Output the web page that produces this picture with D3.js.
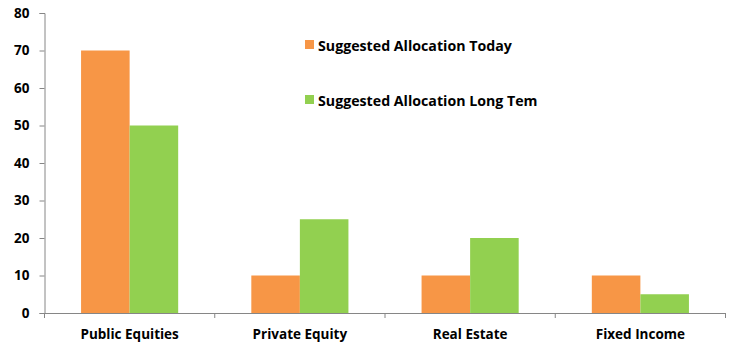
<!DOCTYPE html>
<html><head><meta charset="utf-8">
<script src="https://cdn.jsdelivr.net/npm/d3@7"></script>
<style>body{margin:0;background:#fff}svg text{font-family:"Open Sans",sans-serif;font-weight:bold;fill:#000}</style>
</head><body><svg id="c" width="740" height="355"></svg>
<script>
const categories = ["Public Equities","Private Equity","Real Estate","Fixed Income"];
const seriesNames = ["Suggested Allocation Today","Suggested Allocation Long Tem"];
const today = [70,10,10,10];
const longTerm = [50,25,20,5];
const yTicks = [0,10,20,30,40,50,60,70,80];
const colors = ["#F79646","#92D050"];

const svg = d3.select("#c");
const m = {l:44.5};
const x = d3.scaleBand().domain(categories).range([m.l, 725.5]).paddingInner(0).paddingOuter(0);
const xs = d3.scaleBand().domain([0,1]).range([0, x.bandwidth()]).paddingInner(0).paddingOuter(0.753);
const y = d3.scaleLinear().domain([0,80]).range([313, 13]);

const gy = svg.append("g").attr("transform",`translate(${m.l},0)`)
  .call(d3.axisLeft(y).tickValues(yTicks).tickSize(5).tickPadding(10));
gy.select(".domain").attr("stroke","#868686");
gy.selectAll(".tick line").attr("stroke","#868686");
gy.selectAll(".tick text").attr("font-size",13.5).attr("font-family","Open Sans").attr("font-weight","bold");

const data = [today,longTerm];
categories.forEach((c,i)=>{
  data.forEach((s,j)=>{
    svg.append("rect").attr("x",x(c)+xs(j)).attr("width",xs.bandwidth())
      .attr("y",y(s[i])).attr("height",y(0)-y(s[i])).attr("fill",colors[j]);
  });
});

const gx = svg.append("g").attr("transform",`translate(0,${y(0)})`)
  .call(d3.axisBottom(x).tickSize(0).tickPadding(16));
gx.select(".domain").attr("stroke","#868686");
gx.selectAll(".tick text").attr("font-size",13.5).attr("font-family","Open Sans").attr("font-weight","bold");
const bounds = categories.map(c=>x(c)).concat([x.range()[1]]);
svg.selectAll(".bt").data(bounds).enter().append("line")
  .attr("x1",d=>d).attr("x2",d=>d).attr("y1",y(0)).attr("y2",y(0)+5).attr("stroke","#868686");

const leg = svg.append("g");
seriesNames.forEach((n,j)=>{
  const ly = 46 + j*55;
  leg.append("rect").attr("x",305).attr("y",ly-6).attr("width",9).attr("height",9).attr("fill",colors[j]);
  leg.append("text").attr("x",318).attr("y",ly+4.5).attr("font-size",14.2).text(n);
});
</script></body></html>
